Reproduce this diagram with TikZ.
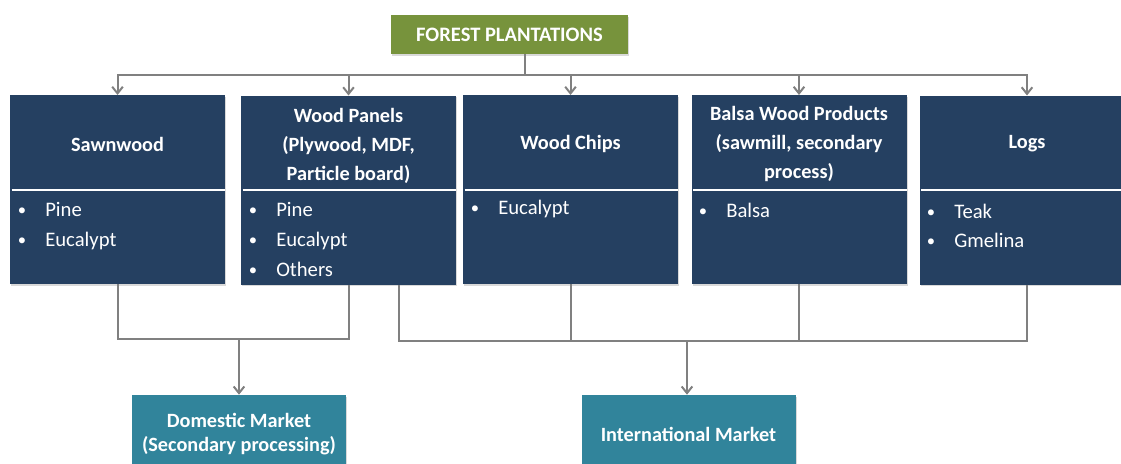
\documentclass[tikz,border=0pt]{standalone}
\usepackage{fontspec}
\setmainfont{Carlito}
\usetikzlibrary{arrows.meta,shadows,calc}
\definecolor{navy}{HTML}{254061}
\definecolor{tealbox}{HTML}{31849B}
\definecolor{olivebox}{HTML}{77933C}
\definecolor{linegray}{HTML}{808080}
\newcommand\bul[4]{%
  \node[bulletmark] (#1b) at (#2,{#3-1}) {•};
  \node[itemtext] (#1) at ({#2+23},#3) {#4};}
\begin{document}
\begin{tikzpicture}[x=0.75pt,y=-0.75pt,
  catbox/.style={fill=navy, minimum width={215*0.75pt}, minimum height={189*0.75pt},
    inner sep=0pt, outer sep=0pt,
    drop shadow={shadow xshift=1pt,shadow yshift=-1.2pt,opacity=0.3}},
  head/.style={text=white, font=\bfseries\fontsize{15.2}{22}\selectfont, align=center, inner sep=0pt},
  itemtext/.style={text=white, font=\fontsize{15.5}{22}\selectfont, anchor=base west, inner sep=0pt},
  bulletmark/.style={text=white, font=\fontsize{12.5}{16}\selectfont, anchor=base, inner sep=0pt},
  market/.style={fill=tealbox, minimum width={214*0.75pt}, minimum height={78*0.75pt},
    text=white, font=\bfseries\fontsize{15.2}{18}\selectfont, align=center, inner sep=0pt,
    drop shadow={shadow xshift=1pt,shadow yshift=-1.2pt,opacity=0.3}},
  topbox/.style={fill=olivebox, minimum width={237*0.75pt}, minimum height={39*0.75pt},
    text=white, font=\bfseries\fontsize{15.4}{18}\selectfont, inner sep=0pt,
    drop shadow={shadow xshift=1pt,shadow yshift=-1.2pt,opacity=0.3}},
  sepline/.style={draw=white, line width=1.5pt},
  conn/.style={draw=linegray, line width=1.5pt},
  arr/.style={-{Straight Barb[length=5pt,width=8pt]}}
]
\clip (0,0) rectangle (1121,464);

% top node
\node[topbox] (forest) at (509.5,34.5) {FOREST PLANTATIONS};

% category boxes
\node[catbox] (saw) at (117.5,189.5) {};
\node[catbox] (wp) at (348.5,190) {};
\node[catbox] (wc) at (570.5,189.5) {};
\node[catbox] (bw) at (799,189.5) {};
\node[catbox] (logs) at (1027,190) {};

\foreach \b in {saw,wp,wc,bw,logs}
  \draw[sepline] ($(\b.west)+(1.5,0)$) -- (\b.east);

% headers
\node[head] (sawh) at (117.5,144) {Sawnwood};
\node[head] (wph) at (348.5,146) {Wood Panels\\(Plywood, MDF,\\Particle board)};
\node[head] (wch) at (570.5,144) {Wood Chips};
\node[head] (bwh) at (799,144) {Balsa Wood Products\\(sawmill, secondary\\process)};
\node[head] (logsh) at (1027,144) {Logs};

% bullet lists
\bul{sawa}{22}{216}{Pine}
\bul{sawc}{22}{246}{Eucalypt}
\bul{wpa}{253}{216}{Pine}
\bul{wpc}{253}{246}{Eucalypt}
\bul{wpd}{253}{276}{Others}
\bul{wca}{475}{214}{Eucalypt}
\bul{bwa}{703}{217}{Balsa}
\bul{lga}{931}{218}{Teak}
\bul{lgc}{931}{247}{Gmelina}

% markets
\node[market] (dom) at (239,434) {Domestic Market\\(Secondary processing)};
\node[market] (intl) at (688.5,434) {International Market};

% top connectors
\coordinate (fork) at (525,75);
\draw[conn, line width=2.2pt] (forest.south -| fork) -- (fork);
\foreach \b in {saw,wp,wc,bw,logs}
  \draw[conn,arr] (fork) -| (\b.north);

% domestic connectors
\coordinate (dj) at (239,339);
\draw[conn] (saw.south) |- (dj);
\draw[conn] (wp.south) |- (dj);
\draw[conn,arr] (dj) -- (dom.north);

% international connectors
\coordinate (ij) at (687,341);
\coordinate (wpout) at (399,285);
\draw[conn] (wpout) |- (ij);
\draw[conn] (wc.south) |- (ij);
\draw[conn] (bw.south) |- (ij);
\draw[conn] (logs.south) |- (ij);
\draw[conn,arr] (ij) -- (intl.north -| ij);
\end{tikzpicture}
\end{document}
